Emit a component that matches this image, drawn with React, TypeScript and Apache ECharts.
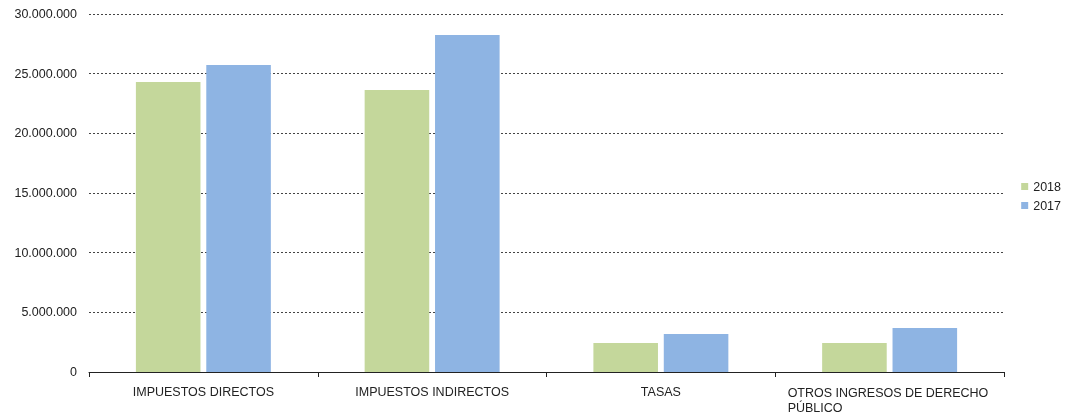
import React, { useEffect, useRef } from "react";
import * as echarts from "echarts";

const categories = [
  "IMPUESTOS DIRECTOS",
  "IMPUESTOS INDIRECTOS",
  "TASAS",
  "OTROS INGRESOS DE DERECHO PÚBLICO",
];
const series2018 = [24300000, 23630000, 2430000, 2430000];
const series2017 = [25730000, 28240000, 3180000, 3690000];
const seriesNames = ["2018", "2017"];

const fmt = (v: number) =>
  String(Math.round(v)).replace(/\B(?=(\d{3})+(?!\d))/g, ".");

export default function App() {
  const ref = useRef<HTMLDivElement>(null);
  useEffect(() => {
    if (!ref.current) return;
    const chart = echarts.init(ref.current, undefined, { renderer: "svg" });
    const font = "'Liberation Sans', Arial, sans-serif";
    const fs = 12.5;
    chart.setOption({
      animation: false,
      textStyle: { fontFamily: font },
      grid: { left: 89, right: 64, top: 14, bottom: 46, containLabel: false },
      legend: {
        orient: "vertical",
        right: 2,
        top: 175,
        itemWidth: 7,
        itemHeight: 7,
        itemGap: 6,
        icon: "rect",
        textStyle: { fontSize: fs, color: "#222", fontFamily: font },
        data: seriesNames,
      },
      xAxis: {
        type: "category",
        data: categories,
        axisLine: { lineStyle: { color: "#222", width: 1 } },
        axisTick: { show: true, length: 5, lineStyle: { color: "#222" } },
        axisLabel: {
          interval: 0,
          margin: 13,
          fontSize: fs,
          color: "#222",
          fontFamily: font,
          formatter: (v: string) =>
            v === "OTROS INGRESOS DE DERECHO PÚBLICO"
              ? "{o|OTROS INGRESOS DE DERECHO}\n{o|PÚBLICO}"
              : v,
          rich: {
            o: {
              width: 204,
              align: "left",
              fontSize: fs,
              color: "#222",
              fontFamily: font,
              lineHeight: 15,
            },
          },
        },
      },
      yAxis: {
        type: "value",
        min: 0,
        max: 30000000,
        interval: 5000000,
        axisLine: { show: false },
        axisTick: { show: false },
        axisLabel: {
          margin: 12,
          fontSize: fs,
          color: "#222",
          fontFamily: font,
          formatter: (v: number) => fmt(v),
        },
        splitLine: {
          lineStyle: { color: "#444", type: [2, 2], width: 1 },
        },
      },
      series: [
        {
          name: seriesNames[0],
          type: "bar",
          data: series2018,
          itemStyle: { color: "#C4D79B" },
          barGap: "9%",
          barCategoryGap: "41%",
        },
        {
          name: seriesNames[1],
          type: "bar",
          data: series2017,
          itemStyle: { color: "#8EB4E3" },
          barGap: "9%",
          barCategoryGap: "41%",
        },
      ],
    });
    return () => chart.dispose();
  }, []);
  return (
    <div
      ref={ref}
      style={{ position: "fixed", left: 0, top: 0, width: 1068, height: 418 }}
    />
  );
}
